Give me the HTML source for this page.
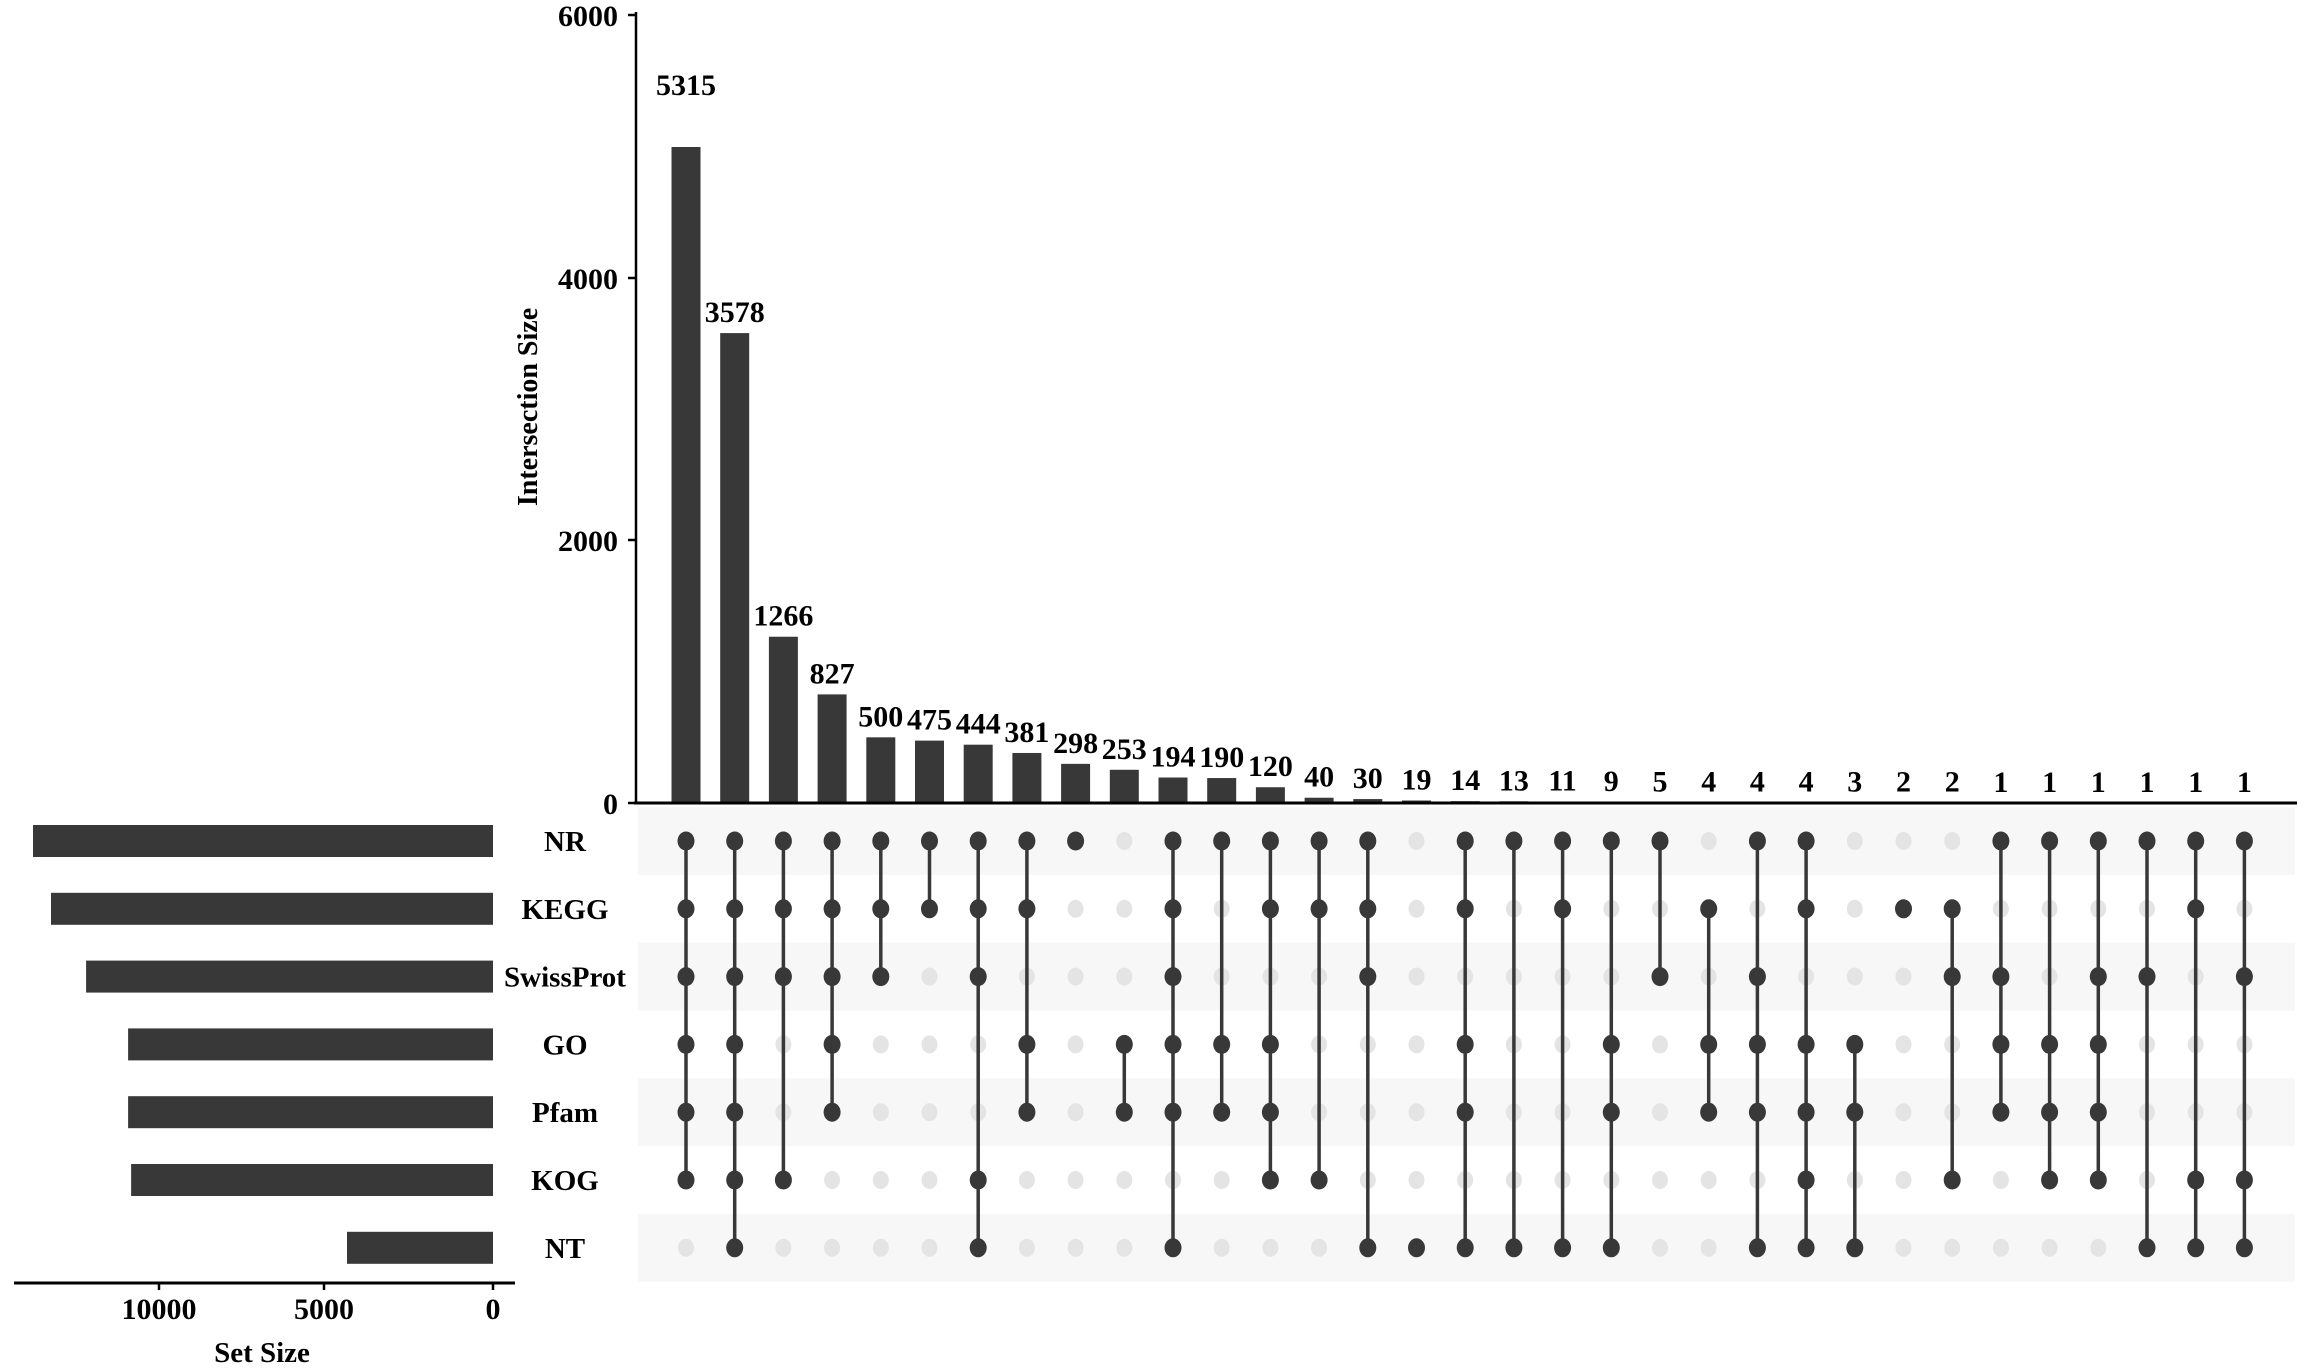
<!DOCTYPE html>
<html><head><meta charset="utf-8"><style>
html,body{margin:0;padding:0;background:#fff;}
svg{display:block;font-family:"Liberation Serif",serif;font-weight:bold;}
</style></head><body>
<svg width="2303" height="1368" viewBox="0 0 2303 1368" xmlns="http://www.w3.org/2000/svg" id="s">
<g id="bands"></g>
<g id="bars"></g>
<g id="mat"></g>
<line x1="636" y1="12" x2="636" y2="804" stroke="#000" stroke-width="2.5"/>
<line x1="634" y1="803" x2="2297" y2="803" stroke="#000" stroke-width="3"/>
<g stroke="#000" stroke-width="2.5">
<line x1="628" y1="15" x2="636" y2="15"/><line x1="628" y1="278" x2="636" y2="278"/>
<line x1="628" y1="540" x2="636" y2="540"/><line x1="628" y1="803" x2="636" y2="803"/>
</g>
<g font-size="30" text-anchor="end">
<text x="618" y="26">6000</text><text x="618" y="289">4000</text>
<text x="618" y="551">2000</text><text x="618" y="814">0</text>
</g>
<text transform="translate(537,407) rotate(-90)" font-size="28" text-anchor="middle">Intersection Size</text>
<line x1="14" y1="1283" x2="515" y2="1283" stroke="#000" stroke-width="3"/>
<g stroke="#000" stroke-width="2.5">
<line x1="159" y1="1283" x2="159" y2="1290"/><line x1="324" y1="1283" x2="324" y2="1290"/><line x1="493" y1="1283" x2="493" y2="1290"/>
</g>
<g font-size="30" text-anchor="middle">
<text x="159" y="1319">10000</text><text x="324" y="1319">5000</text><text x="493" y="1319">0</text>
<text x="262" y="1362" font-size="29">Set Size</text>
</g>
<g id="names" font-size="29" text-anchor="middle"></g>
</svg>
<script>
(function(){
var NS="http://www.w3.org/2000/svg";
function el(p,t,a,txt){var e=document.createElementNS(NS,t);for(var k in a)e.setAttribute(k,a[k]);if(txt!==undefined)e.textContent=txt;document.getElementById(p).appendChild(e);}
var rows=[],r0=841,rs=67.8;for(var i=0;i<7;i++)rows.push(r0+i*rs);
var names=["NR","KEGG","SwissProt","GO","Pfam","KOG","NT"];
var sizes=[13690,13155,12110,10860,10860,10770,4345];
for(var i=0;i<7;i++){
 if(i%2==0) el("bands","rect",{x:638,y:rows[i]-rs/2,width:1657,height:rs,fill:"#f7f7f7"});
 var L=493-sizes[i]*168/5000;
 el("bars","rect",{x:L,y:rows[i]-16,width:493-L,height:32,fill:"#383838"});
 el("names","text",{x:565,y:rows[i]+10},names[i]);
}
var vals=[5315,3578,1266,827,500,475,444,381,298,253,194,190,120,40,30,19,14,13,11,9,5,4,4,4,3,2,2,1,1,1,1,1,1];
var m=[[0,1,2,3,4,5],[0,1,2,3,4,5,6],[0,1,2,5],[0,1,2,3,4],[0,1,2],[0,1],[0,1,2,5,6],[0,1,3,4],[0],[3,4],
[0,1,2,3,4,6],[0,3,4],[0,1,3,4,5],[0,1,5],[0,1,2,6],[6],[0,1,3,4,6],[0,6],[0,1,6],[0,3,4,6],
[0,2],[1,3,4],[0,2,3,4,6],[0,1,3,4,5,6],[3,4,6],[1],[1,2,5],[0,2,3,4],[0,3,4,5],[0,2,3,4,5],[0,2,6],[0,1,5,6],[0,2,5,6]];
var x0=686,dx=48.7,sc=788/6000;
for(var c=0;c<33;c++){
 var x=x0+c*dx,h=vals[c]*sc,top=803-h,ly=top-11;
 if(c==0){top=147;h=803-147;ly=95;}
 el("bars","rect",{x:x-14.5,y:top,width:29,height:h,fill:"#383838"});
 el("bars","text",{x:x,y:ly,"font-size":30,"text-anchor":"middle"},String(vals[c]));
 var s=m[c];
 for(var i=0;i<7;i++) if(s.indexOf(i)<0) el("mat","ellipse",{cx:x,cy:rows[i],rx:8,ry:9,fill:"#e4e4e4"});
 if(s.length>1) el("mat","line",{x1:x,y1:rows[s[0]],x2:x,y2:rows[s[s.length-1]],stroke:"#383838","stroke-width":3.5});
 for(var j=0;j<s.length;j++) el("mat","ellipse",{cx:x,cy:rows[s[j]],rx:8.5,ry:9.5,fill:"#383838"});
}
})();
</script>
</body></html>
